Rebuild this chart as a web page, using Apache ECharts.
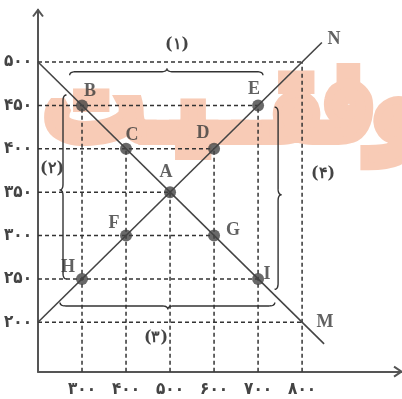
<!DOCTYPE html>
<html><head><meta charset="utf-8">
<script src="https://cdn.jsdelivr.net/npm/echarts@6/dist/echarts.min.js"></script>
<style>html,body{margin:0;padding:0;background:#fff}#c{width:402px;height:399px}</style>
</head><body><div id="c"></div>
<script>
// ---- data ----
const xTicks = [300, 400, 500, 600, 700, 800];
const xTickLabels = ['۳۰۰', '۴۰۰', '۵۰۰', '۶۰۰', '۷۰۰', '۸۰۰'];
const yTicks = [200, 250, 300, 350, 400, 450, 500];
const yTickLabels = ['۲۰۰', '۲۵۰', '۳۰۰', '۳۵۰', '۴۰۰', '۴۵۰', '۵۰۰'];
const pointNames = ['B', 'C', 'A', 'G', 'I', 'H', 'F', 'D', 'E'];
const pointX = [300, 400, 500, 600, 700, 300, 400, 600, 700];
const pointY = [450, 400, 350, 300, 250, 250, 300, 400, 450];
const lineMX = [200, 850];
const lineMY = [500, 175];
const lineNX = [200, 845];
const lineNY = [200, 522.5];
const endNames = ['N', 'M'];
const endX = [845, 800];
const endY = [522.5, 200];
const hGuideY = [500, 450, 400, 350, 300, 250, 200];
const hGuideEndX = [800, 700, 600, 500, 600, 700, 800];
const vGuideX = [300, 400, 500, 600, 700, 800];
const vGuideTopY = [450, 400, 350, 400, 450, 500];
const braceNames = ['(۱)', '(۲)', '(۳)', '(۴)'];
const watermarkText = 'موفقــیـت';

const X_MIN = 200, X_MAX = 1027, Y_MIN = 143, Y_MAX = 560;
const INK = '#444';

const labelOffsets = {
  B: [8, -14], C: [6, -13], A: [-4, -20], D: [-11, -15], E: [-4, -16],
  F: [-12, -12], G: [19, -5], H: [-14, -12], I: [9, -5], N: [12, -3], M: [23, 0]
};

const chart = echarts.init(document.getElementById('c'), null, {renderer: 'canvas'});

const series = [];
const dash = {color: '#333', width: 1.5, type: [4, 3]};
hGuideY.forEach((y, i) => series.push({
  type: 'line', silent: true, symbol: 'none', z: 1,
  data: [[X_MIN, y], [hGuideEndX[i], y]], lineStyle: dash
}));
vGuideX.forEach((x, i) => series.push({
  type: 'line', silent: true, symbol: 'none', z: 1,
  data: [[x, Y_MIN], [x, vGuideTopY[i]]], lineStyle: dash
}));
series.push({type: 'line', symbol: 'none', z: 2, data: lineMX.map((x, i) => [x, lineMY[i]]),
  lineStyle: {color: INK, width: 1.6}});
series.push({type: 'line', symbol: 'none', z: 2, data: lineNX.map((x, i) => [x, lineNY[i]]),
  lineStyle: {color: INK, width: 1.6}});
const lblStyle = n => ({show: true, formatter: n, position: 'inside', offset: labelOffsets[n],
  fontFamily: 'Liberation Serif', fontWeight: 'bold', fontSize: 18, color: '#3a3a3a'});
series.push({type: 'scatter', z: 3, symbolSize: 12,
  itemStyle: {color: INK},
  data: pointNames.map((n, i) => ({value: [pointX[i], pointY[i]], label: lblStyle(n)}))});
series.push({type: 'scatter', z: 3, symbolSize: 0,
  data: endNames.map((n, i) => ({value: [endX[i], endY[i]], label: lblStyle(n)}))});

const tickFont = {fontFamily: 'DejaVu Sans Condensed', fontWeight: 'bold', fontSize: 17, color: INK};
chart.setOption({
  animation: false,
  grid: {left: 38, right: 0, top: 10, bottom: 27.3, outerBoundsMode: 'none', containLabel: false},
  xAxis: {type: 'value', min: X_MIN, max: X_MAX, splitLine: {show: false},
    axisLine: {lineStyle: {color: '#555', width: 2}}, axisTick: {show: false},
    axisLabel: Object.assign({customValues: xTicks, formatter: v => xTickLabels[xTicks.indexOf(v)] || '',
      margin: 9}, tickFont)},
  yAxis: {type: 'value', min: Y_MIN, max: Y_MAX, splitLine: {show: false},
    axisLine: {show: true, lineStyle: {color: '#555', width: 2}}, axisTick: {show: false},
    axisLabel: Object.assign({customValues: yTicks, formatter: v => yTickLabels[yTicks.indexOf(v)] || '',
      margin: 6}, tickFont)},
  series: series
});

// ---- decorations computed from data coordinates ----
const P = (x, y) => chart.convertToPixel({gridIndex: 0}, [x, y]);
function quad(pts, p0, c, p1) {
  for (let t = 0.1; t <= 1.0001; t += 0.1) {
    const u = 1 - t;
    pts.push([u * u * p0[0] + 2 * u * t * c[0] + t * t * p1[0], u * u * p0[1] + 2 * u * t * c[1] + t * t * p1[1]]);
  }
}
function hBrace(x1, x2, xm, y, dir) { // dir: -1 nub up, +1 nub down
  const a = P(x1, y), b = P(x2, y), m = P(xm, y);
  const Y = a[1], h = 3.5, r = 6, s = -dir;
  const pts = [[a[0], Y + s * h]];
  quad(pts, pts[0], [a[0], Y], [a[0] + r, Y]);
  pts.push([m[0] - r, Y]);
  quad(pts, [m[0] - r, Y], [m[0], Y], [m[0], Y + dir * h]);
  quad(pts, [m[0], Y + dir * h], [m[0], Y], [m[0] + r, Y]);
  pts.push([b[0] - r, Y]);
  quad(pts, [b[0] - r, Y], [b[0], Y], [b[0], Y + s * h]);
  return pts;
}
function vBrace(x, y1, y2, ym, dir) { // dir: -1 nub left, +1 nub right
  const a = P(x, y1), b = P(x, y2), m = P(x, ym);
  const X = a[0], h = 3.5, r = 6, s = -dir;
  const pts = [[X + s * h, a[1]]];
  quad(pts, pts[0], [X, a[1]], [X, a[1] + r]);
  pts.push([X, m[1] - r]);
  quad(pts, [X, m[1] - r], [X, m[1]], [X + dir * h, m[1]]);
  quad(pts, [X + dir * h, m[1]], [X, m[1]], [X, m[1] + r]);
  pts.push([X, b[1] - r]);
  quad(pts, [X, b[1] - r], [X, b[1]], [X + s * h, b[1]]);
  return pts;
}
const braceStyle = {stroke: '#333', lineWidth: 1.4, fill: null};
const braces = [
  hBrace(272, 711, 493, 488.8, -1),
  vBrace(256.8, 462, 250, 352.6, -1),
  hBrace(250, 738, 495, 218.8, 1),
  vBrace(745.5, 448, 238, 347, 1)
];
const braceLabelPos = [[516, 520], [232, 376.7], [468, 182], [847.7, 371]];
const yTop = P(X_MIN, Y_MAX), xEnd = P(X_MAX, Y_MIN);
const graphic = [];
const wm = P(1209, 445);
graphic.push({type: 'text', z: -10, silent: true, x: wm[0], y: wm[1],
  style: {text: watermarkText, font: '104px "DejaVu Sans"', fill: '#f8cbb6',
    stroke: '#f8cbb6', lineWidth: 16, lineJoin: 'round',
    textAlign: 'right', textVerticalAlign: 'middle'}});
braces.forEach(pts => graphic.push({type: 'polyline', z: 5, silent: true, shape: {points: pts}, style: braceStyle}));
braceNames.forEach((t, i) => {
  const p = P(braceLabelPos[i][0], braceLabelPos[i][1]);
  graphic.push({type: 'text', z: 5, silent: true, x: p[0], y: p[1],
    style: {text: t, font: 'bold 16px "DejaVu Serif"', fill: INK, textAlign: 'center', textVerticalAlign: 'middle'}});
});
graphic.push({type: 'polyline', z: 5, silent: true,
  shape: {points: [[yTop[0] - 5, yTop[1] + 6.5], [yTop[0], yTop[1]], [yTop[0] + 5, yTop[1] + 6.5]]},
  style: {stroke: '#555', lineWidth: 2, fill: null}});
graphic.push({type: 'polyline', z: 5, silent: true,
  shape: {points: [[xEnd[0] - 8, xEnd[1] - 5], [xEnd[0] - 0.5, xEnd[1]], [xEnd[0] - 8, xEnd[1] + 5]]},
  style: {stroke: '#555', lineWidth: 2, fill: null}});
chart.setOption({graphic: graphic});
</script></body></html>
